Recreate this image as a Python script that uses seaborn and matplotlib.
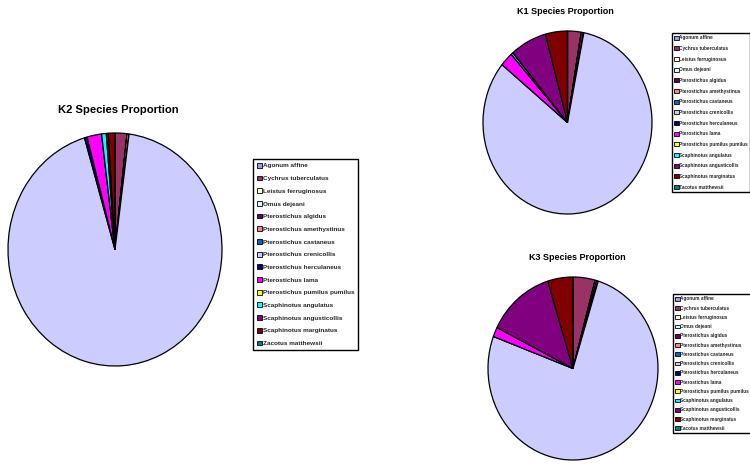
import matplotlib
matplotlib.use("Agg")
import matplotlib.pyplot as plt
from matplotlib.patches import Patch
import seaborn as sns

sns.set_theme(style="white")
plt.rcParams["font.family"] = ["Liberation Sans", "DejaVu Sans"]

species = [
    "Agonum affine", "Cychrus tuberculatus", "Leistus ferruginosus", "Omus dejeani",
    "Pterostichus algidus", "Pterostichus amethystinus", "Pterostichus castaneus",
    "Pterostichus crenicollis", "Pterostichus herculaneus", "Pterostichus lama",
    "Pterostichus pumilus pumilus", "Scaphinotus angulatus", "Scaphinotus angusticollis",
    "Scaphinotus marginatus", "Zacotus matthewsii",
]

# proportion of each species (%) per site
k1 = [0, 2.6, 0, 0, 0.5, 0, 0, 82.8, 0, 2.5, 0, 0.4, 7.0, 4.2, 0]
k2 = [0, 1.8, 0, 0, 0, 0.3, 0, 93.3, 0.4, 2.2, 0, 0.7, 0.3, 1.0, 0]
k3 = [0, 4.2, 0, 0.3, 0, 0.3, 0, 75.9, 0, 1.7, 0, 0, 12.8, 4.8, 0]

palette = sns.color_palette([
    "#9999FF", "#993366", "#FFFFCC", "#CCFFFF", "#660066", "#FF8080", "#0066CC",
    "#CCCCFF", "#000080", "#FF00FF", "#FFFF00", "#00FFFF", "#800080", "#800000",
    "#008080",
])

W, H = 750, 466
fig = plt.figure(figsize=(W / 100, H / 100), dpi=100)
fig.patch.set_facecolor("white")


def px_axes(x0, y0, x1, y1):
    return fig.add_axes([x0 / W, 1 - y1 / H, (x1 - x0) / W, (y1 - y0) / H])


def draw_pie(values, box, title, title_xy, title_size):
    ax = px_axes(*box)
    wedges, _ = ax.pie(values, colors=palette, startangle=90, counterclock=False,
                       wedgeprops=dict(edgecolor="black", linewidth=0.9))
    for w in wedges:
        w.set_clip_on(False)
    ax.set_aspect("auto")
    ax.set_xlim(-1, 1)
    ax.set_ylim(-1, 1)
    ax.axis("off")
    fig.text(title_xy[0] / W, 1 - title_xy[1] / H, title, ha="center", va="center",
             fontsize=title_size, fontweight="bold", color="black")


def draw_legend(anchor, size, spacing, hlen, textpad=0.15, pad=0.6):
    handles = [Patch(facecolor=c, edgecolor="black", linewidth=0.6) for c in palette]
    leg = fig.legend(handles, species, loc="upper left",
                     bbox_to_anchor=(anchor[0] / W, 1 - anchor[1] / H),
                     bbox_transform=fig.transFigure,
                     prop=dict(size=size, weight="bold"), labelspacing=spacing,
                     handlelength=hlen, handleheight=hlen, handletextpad=textpad,
                     borderpad=pad, borderaxespad=0, fancybox=False, framealpha=1,
                     edgecolor="black")
    leg.get_frame().set_linewidth(1.0)
    return leg


draw_pie(k2, (8, 133, 222, 366), "K2 Species Proportion", (118, 110), 8.1)
draw_pie(k1, (483, 31, 652, 214), "K1 Species Proportion", (565, 12), 6.5)
draw_pie(k3, (488, 277, 658, 460), "K3 Species Proportion", (577, 257), 6.5)

draw_legend((253, 159), 4.6, 1.1, 0.8)
draw_legend((672, 33), 3.4, 1.2, 0.9, textpad=0.1, pad=0.5)
draw_legend((673, 294), 3.4, 0.9, 0.9, textpad=0.1, pad=0.5)

fig.savefig("out.png", dpi=100, facecolor="white")
